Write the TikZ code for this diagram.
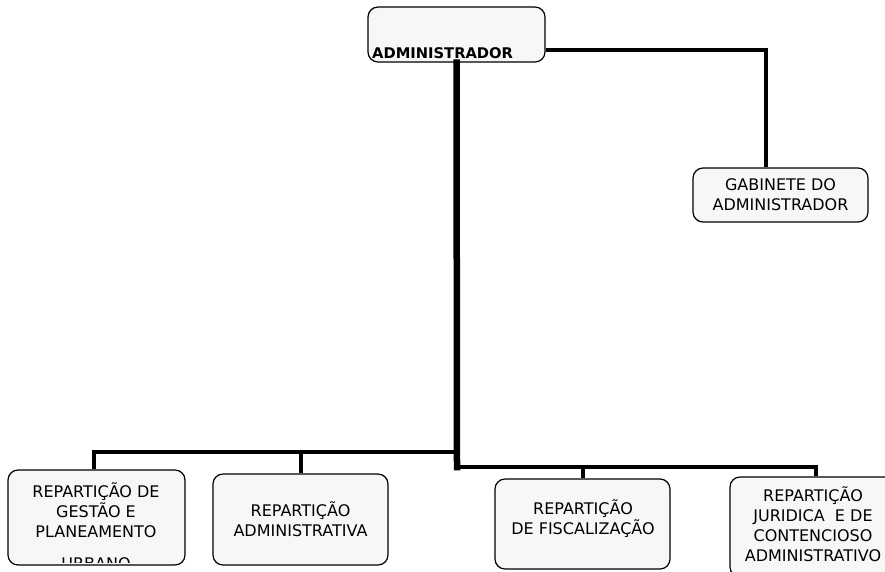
\documentclass[tikz,border=0pt]{standalone}
\usepackage{fontspec}
\setmainfont{DejaVu Sans}
\usetikzlibrary{calc}

\begin{document}
\begin{tikzpicture}[
    x=1pt, y=-1pt,
    unit/.style={draw, rounded corners=10pt, line width=1.2pt, fill=black!3, inner sep=0pt},
    unittext/.style={font={\fontsize{16}{20}\selectfont}, align=center, inner sep=0pt},
    headtext/.style={font={\fontsize{14.7}{20}\selectfont\bfseries}, inner sep=0pt},
    trunk/.style={line width=6.5pt, line cap=rect},
    link/.style={line width=4pt}
]
    \useasboundingbox (0,0) rectangle (885,571);
    \clip (0,0) rectangle (885,571);

    % Draw top boxes
    \node[unit, minimum width=177pt, minimum height=55pt] (admin) at (456.5,34.5) {};
    \node[headtext, anchor=base west] (admintxt) at (372,58) {ADMINISTRADOR};
    \node[unit, unittext, minimum width=175pt, minimum height=54pt] (gab) at (780.5,195) {GABINETE DO\\ADMINISTRADOR};

    % Draw bottom boxes
    \node[unit, minimum width=177pt, minimum height=95pt] (gestao) at (96.5,517.5) {};
    \node[unittext] (gestaotxt) at (96,510) {REPARTIÇÃO DE\\GESTÃO E\\PLANEAMENTO};
    \begin{scope}
        \clip (0,540) rectangle (200,562);
        \node[unittext, anchor=base] (urbano) at (96,569) {URBANO};
    \end{scope}
    \node[unit, unittext, minimum width=175pt, minimum height=91pt] (adm) at (300.5,519.5) {REPARTIÇÃO\\ADMINISTRATIVA};
    \node[unit, minimum width=175pt, minimum height=90pt] (fisc) at (582.5,524) {};
    \node[unittext] (fisctxt) at (583,519) {REPARTIÇÃO\\DE FISCALIZAÇÃO};
    \node[unit, minimum width=175pt, minimum height=100pt] (jur) at (817.5,527) {};
    \node[unittext] (jurtxt) at (813,524) {REPARTIÇÃO\\JURIDICA\ \ E DE\\CONTENCIOSO\\ADMINISTRATIVO};

    % Draw junctions
    \coordinate (lj) at (457,452);
    \coordinate (rj) at (457,467);

    % Draw links
    \draw[link] ([yshift=-15.5pt]admin.east) -| ([xshift=-15pt]gab.north);
    \draw[trunk] (admin.south) -- (rj);
    \draw[link] (lj) -| ([xshift=-3pt]gestao.north);
    \draw[link] (lj) -| (adm.north);
    \draw[link] (rj) -| (fisc.north);
    \draw[link] (rj) -| ([xshift=-2pt]jur.north);

\end{tikzpicture}
\end{document}
